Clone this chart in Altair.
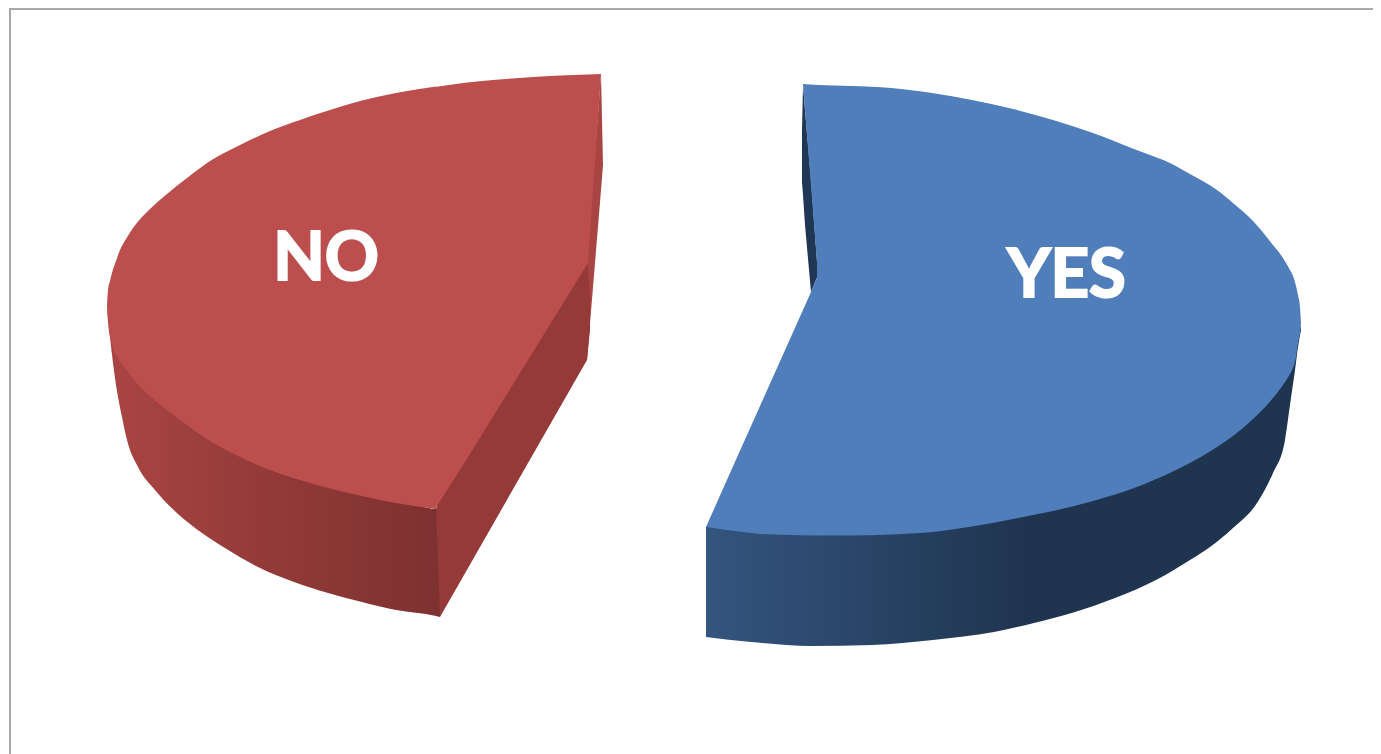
import altair as alt
import pandas as pd

# Outline readings of the picture, in the chart's own x/y units
no_arc_x = [107, 108, 110, 112, 116, 120, 126, 133, 150, 167, 187, 210, 240, 270, 300, 330, 362, 396, 436]
no_arc_top = [307, 290, 281, 273, 261, 250, 239, 228, 209, 194, 178, 161, 145, 131, 120, 110, 100.5, 93, 86.5]
no_arc_bot = [307, 322, 337, 345, 354, 361, 369, 379, 396, 410, 425, 441, 457, 470, 480, 488.5, 496, 503, 509]

no_edge_x = [435, 465, 482, 499, 516, 533, 550, 567, 588, 601]
no_edge_top = [87, 82.8, 81, 79.5, 78.2, 77, 76, 75.2, 74.5, 74]
no_edge_bot = [509, 462, 434.5, 407, 379.5, 352, 324.5, 297, 263, 74]

no_rim_x = [107, 110, 115, 122, 127, 138, 155, 178, 202, 225, 260, 294, 328, 362, 396, 436, 440]
no_rim_top = [307, 325, 345, 352, 358, 368, 386, 405, 425, 440, 460, 472, 482, 491, 497, 509, 495]
no_rim_bot = [308, 337, 378, 417, 440, 467, 490, 514, 533, 548, 568, 582, 593, 602, 610, 616, 617]

no_strip_x = [587, 601, 603]
no_strip_top = [258, 74, 165]
no_strip_bot = [360, 190, 165]

no_cut_x = [436, 440, 587, 590]
no_cut_top = [509, 495, 258, 295]
no_cut_bot = [509, 617, 360, 330]

yes_edge_x = [706, 730, 760, 790, 811, 818]
yes_edge_top = [527, 473, 406, 339, 292, 275]
yes_edge_bot = [527, 530.5, 534, 535, 535.5, 535.5]

yes_arc_x = [817, 851, 891, 932, 972, 1013, 1053, 1093, 1134, 1174, 1190, 1217, 1233, 1253, 1273, 1283, 1290, 1293, 1296, 1298, 1300, 1301]
yes_arc_top = [85, 86, 88, 93, 100, 109, 120, 133, 149, 165, 174, 190, 203, 221, 245, 258, 270, 276, 286, 295, 307, 323]
yes_arc_bot = [535.5, 535.5, 534.5, 532, 526.5, 519, 511, 501, 488, 471, 463, 447, 436, 419, 398, 385, 374, 368, 357, 343, 333, 323]

yes_sliver_x = [803, 818, 819]
yes_sliver_top = [84, 85, 85]
yes_sliver_bot = [84, 275, 275]

yes_rim_x = [706, 751, 811, 872, 933, 994, 1034, 1075, 1115, 1156, 1190, 1210, 1233, 1257, 1273, 1285, 1290, 1295, 1298, 1301]
yes_rim_top = [527, 526, 528, 528, 525, 516, 507, 497, 483, 465, 447, 432, 420, 400, 385, 372, 362, 345, 338, 325]
yes_rim_bot = [637, 642, 646, 645, 640, 632, 623, 612, 598, 580, 560, 547, 528, 503, 473, 440, 405, 370, 347, 330]

yes_cut_x = [802, 803, 805, 811, 818]
yes_cut_top = [130, 85, 110, 180, 275]
yes_cut_bot = [182, 195, 225, 292, 275]

labels = ["NO", "YES"]
label_x = [326, 1066.5]
label_y = [280, 297]

RED_FACE = "#BC4F4D"
RED_CUT = "#943A38"
RED_STRIP = "#A84441"
BLUE_FACE = "#4F7EBA"
BLUE_CUT = "#1F3654"
BORDER = "#A8A8A8"

W, H = 1365, 746
xs = alt.Scale(domain=[8, 1373], range=[0, W], nice=False, zero=False)
ys = alt.Scale(domain=[8, 754], range=[0, H], nice=False, zero=False)


def piece(x, top, bot, color, curve="linear"):
    df = pd.DataFrame({"x": x, "top": top, "bot": bot})
    return alt.Chart(df).mark_area(color=color, interpolate=curve, opacity=1, strokeWidth=0).encode(
        x=alt.X("x:Q", scale=xs, axis=None),
        y=alt.Y("top:Q", scale=ys, axis=None, stack=None),
        y2="bot:Q",
    )


def grad(*stops):
    return alt.Gradient(
        gradient="linear", x1=0, x2=1, y1=0, y2=0,
        stops=[alt.GradientStop(color=c, offset=o) for o, c in stops],
    )


red_rim = grad((0, "#AA4542"), (0.45, "#943B39"), (1, "#7D3130"))
blue_rim = grad((0, "#34557F"), (0.54, "#1F344F"), (1, "#1F344F"))

left_rule = alt.Chart(pd.DataFrame({"x": [10], "y": [8], "y2": [754]})).mark_rule(color=BORDER, strokeWidth=2).encode(
    x=alt.X("x:Q", scale=xs, axis=None),
    y=alt.Y("y:Q", scale=ys, axis=None),
    y2="y2:Q",
)
top_rule = alt.Chart(pd.DataFrame({"x": [9], "x2": [1373], "y": [9]})).mark_rule(color=BORDER, strokeWidth=2).encode(
    x=alt.X("x:Q", scale=xs, axis=None),
    x2="x2:Q",
    y=alt.Y("y:Q", scale=ys, axis=None),
)

text = alt.Chart(pd.DataFrame({"t": labels, "x": label_x, "y": label_y})).mark_text(
    font="Lato", fontWeight="bold", fontSize=67, color="white", stroke="white", strokeWidth=2.2,
    align="center", baseline="alphabetic",
).encode(
    x=alt.X("x:Q", scale=xs, axis=None),
    y=alt.Y("y:Q", scale=ys, axis=None),
    text="t:N",
)

chart = alt.layer(
    left_rule,
    top_rule,
    piece(no_rim_x, no_rim_top, no_rim_bot, red_rim, "monotone"),
    piece(no_strip_x, no_strip_top, no_strip_bot, RED_STRIP),
    piece(no_cut_x, no_cut_top, no_cut_bot, RED_CUT),
    piece(no_arc_x, no_arc_top, no_arc_bot, RED_FACE, "monotone"),
    piece(no_edge_x, no_edge_top, no_edge_bot, RED_FACE),
    piece(yes_rim_x, yes_rim_top, yes_rim_bot, blue_rim, "monotone"),
    piece(yes_cut_x, yes_cut_top, yes_cut_bot, BLUE_CUT),
    piece(yes_sliver_x, yes_sliver_top, yes_sliver_bot, BLUE_FACE),
    piece(yes_edge_x, yes_edge_top, yes_edge_bot, BLUE_FACE),
    piece(yes_arc_x, yes_arc_top, yes_arc_bot, BLUE_FACE, "monotone"),
    text,
).properties(
    width=W, height=H, padding=0, autosize=alt.AutoSizeParams(type="none"), background="white"
).configure_view(stroke=None)

chart.save("out.html", embed_options={"renderer": "svg", "actions": False})
